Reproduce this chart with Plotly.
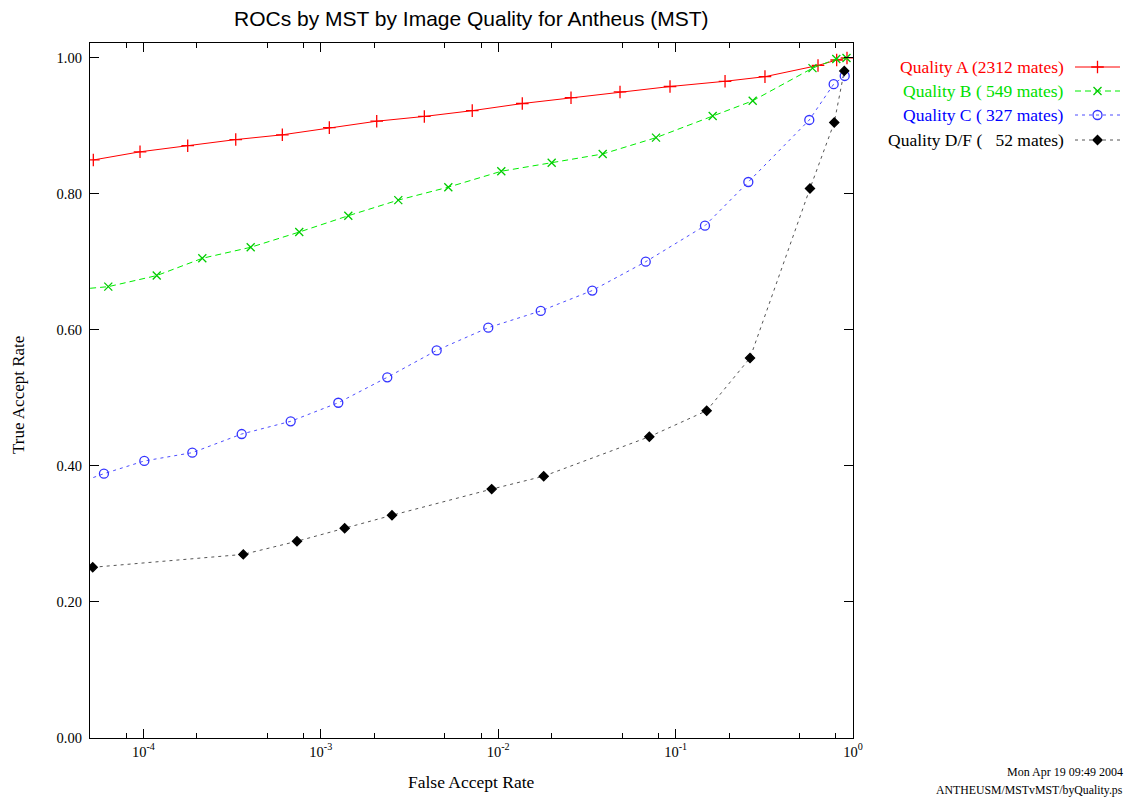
import plotly.graph_objects as go
import math

# ---------------- data ----------------
far_A = [5.22e-5, 9.57e-5, 1.777e-4, 3.315e-4, 6.07e-4, 1.117e-3, 2.066e-3, 3.834e-3, 7.14e-3,
         1.367e-2, 2.573e-2, 4.86e-2, 9.30e-2, 0.190, 0.319, 0.635, 0.809, 0.925]
tar_A = [0.850, 0.862, 0.871, 0.880, 0.887, 0.8975, 0.907, 0.914, 0.9225,
         0.933, 0.9416, 0.950, 0.958, 0.9657, 0.9725, 0.989, 0.997, 1.0]

far_B = [4.4e-5, 6.34e-5, 1.189e-4, 2.148e-4, 4.025e-4, 7.56e-4, 1.429e-3, 2.734e-3, 5.233e-3,
         1.041e-2, 2.002e-2, 3.882e-2, 7.755e-2, 0.1618, 0.272, 0.591, 0.805, 0.919]
tar_B = [0.660, 0.6637, 0.680, 0.7054, 0.7216, 0.744, 0.768, 0.791, 0.810,
         0.8334, 0.846, 0.8588, 0.8828, 0.9147, 0.937, 0.985, 0.9985, 1.0]

far_C = [4.4e-5, 5.99e-5, 1.012e-4, 1.887e-4, 3.582e-4, 6.765e-4, 1.255e-3, 2.370e-3, 4.499e-3,
         8.79e-3, 1.737e-2, 3.392e-2, 6.785e-2, 0.1464, 0.257, 0.567, 0.778, 0.898]
tar_C = [0.376, 0.3887, 0.4074, 0.4196, 0.447, 0.4657, 0.493, 0.5304, 0.570,
         0.6034, 0.628, 0.658, 0.7004, 0.7534, 0.8176, 0.9088, 0.9615, 0.9735]

far_D = [5.18e-5, 3.657e-4, 7.34e-4, 1.363e-3, 2.519e-3, 9.19e-3, 1.805e-2, 7.11e-2,
         0.1497, 0.2627, 0.572, 0.784, 0.893]
tar_D = [0.251, 0.270, 0.2893, 0.3084, 0.3275, 0.366, 0.385, 0.443,
         0.4813, 0.5588, 0.808, 0.905, 0.981]

series_names = ["Quality A (2312 mates)",
                "Quality B (\u00a0549 mates)",
                "Quality C (\u00a0327 mates)",
                "Quality D/F (\u00a0\u00a0 52 mates)"]

x_tickvals = [1e-4, 1e-3, 1e-2, 1e-1, 1]
x_ticktext = ["10<sup>-4</sup>", "10<sup>-3</sup>", "10<sup>-2</sup>", "10<sup>-1</sup>", "10<sup>0</sup>"]
x_minorvals = [8e-5, 2e-4, 5e-4, 8e-4, 2e-3, 5e-3, 8e-3, 2e-2, 5e-2, 8e-2, 2e-1, 5e-1, 8e-1]
y_tickvals = [0.0, 0.2, 0.4, 0.6, 0.8, 1.0]

title_text = "ROCs by MST by Image Quality for Antheus (MST)"
xlabel = "False Accept Rate"
ylabel = "True Accept Rate"
foot1 = "Mon Apr 19 09:49 2004"
foot2 = "ANTHEUSM/MSTvMST/byQuality.ps"

# ---------------- styles ----------------
W, H = 1128, 799
ML, MR, MT, MB = 90, 3, 43, 61
PW = W - ML - MR
PH = H - MT - MB
plot_right = 853
xdom = (plot_right - ML) / PW
xrange_log = [math.log10(5e-5), 0]

SERIF = "Liberation Serif"
styles = [
    dict(color="#ff0000", tcolor="#ff0000", dash="solid", sym="cross-thin-open", size=9, mcolor="#ff0000"),
    dict(color="#00ee00", tcolor="#00e000", dash="6px,4px", sym="x-thin-open", size=8, mcolor="#00cc00"),
    dict(color="#4d4dff", tcolor="#0000ff", dash="3px,4px", sym="circle-open", size=9, mcolor="#3333ff"),
    dict(color="#555555", tcolor="#000000", dash="3px,4px", sym="diamond", size=7, mcolor="#000000"),
]

fig = go.Figure()
data = [(far_A, tar_A), (far_B, tar_B), (far_C, tar_C), (far_D, tar_D)]
for (xs, ys), st, nm in zip(data, styles, series_names):
    fig.add_trace(go.Scatter(
        x=xs, y=ys, mode="lines+markers", name=nm, showlegend=False,
        line=dict(color=st["color"], width=1, dash=st["dash"]),
        marker=dict(symbol=st["sym"], size=st["size"], color=st["mcolor"],
                    line=dict(color=st["mcolor"], width=1.3)),
        xaxis="x", yaxis="y"))

# invisible trace so the minor-tick overlay axis is rendered
fig.add_trace(go.Scatter(x=[1e-3], y=[0.5], mode="markers", marker=dict(opacity=0),
                         showlegend=False, hoverinfo="skip", xaxis="x3", yaxis="y"))

# ---------------- custom legend (text left of sample, like gnuplot) ----------------
leg_rows_px = [67, 91, 115, 140]
leg_x0, leg_x1 = 1075, 1120
leg_text_right = 1066
annotations = []
for (st, nm, rpx) in zip(styles, series_names, leg_rows_px):
    yv = (MT + PH) - rpx
    fig.add_trace(go.Scatter(
        x=[leg_x0, leg_x1], y=[yv, yv], mode="lines", showlegend=False, hoverinfo="skip",
        line=dict(color=st["color"], width=1, dash=st["dash"]), xaxis="x2", yaxis="y2"))
    fig.add_trace(go.Scatter(
        x=[(leg_x0 + leg_x1) / 2], y=[yv], mode="markers", showlegend=False, hoverinfo="skip",
        marker=dict(symbol=st["sym"], size=st["size"], color=st["mcolor"],
                    line=dict(color=st["mcolor"], width=1.3)), xaxis="x2", yaxis="y2"))
    annotations.append(dict(
        text=nm, xref="paper", yref="paper",
        x=(leg_text_right - ML) / PW, y=((MT + PH) - rpx) / PH,
        xanchor="right", yanchor="middle", showarrow=False,
        font=dict(family=SERIF, size=17.5, color=st["tcolor"])))

# title, axis labels, footnotes
annotations.append(dict(text=title_text, xref="paper", yref="paper",
                        x=((ML + plot_right) / 2 - ML) / PW, y=((MT + PH) - 18) / PH,
                        xanchor="center", yanchor="middle", showarrow=False,
                        font=dict(family="Liberation Sans", size=21, color="#000000")))
annotations.append(dict(text=xlabel, xref="paper", yref="paper",
                        x=((ML + plot_right) / 2 - ML) / PW, y=((MT + PH) - 782) / PH,
                        xanchor="center", yanchor="middle", showarrow=False,
                        font=dict(family=SERIF, size=17.5, color="#000000")))
annotations.append(dict(text=ylabel, xref="paper", yref="paper",
                        x=(18 - ML) / PW, y=((MT + PH) - 395) / PH, textangle=-90,
                        xanchor="center", yanchor="middle", showarrow=False,
                        font=dict(family=SERIF, size=17, color="#000000")))
annotations.append(dict(text=foot1, xref="paper", yref="paper",
                        x=(1125 - ML) / PW, y=((MT + PH) - 772) / PH,
                        xanchor="right", yanchor="middle", showarrow=False,
                        font=dict(family=SERIF, size=12, color="#000000")))
annotations.append(dict(text=foot2, xref="paper", yref="paper",
                        x=(1125 - ML) / PW, y=((MT + PH) - 790) / PH,
                        xanchor="right", yanchor="middle", showarrow=False,
                        font=dict(family=SERIF, size=11.8, color="#000000")))

fig.update_layout(
    width=W, height=H, autosize=False,
    margin=dict(l=ML, r=MR, t=MT, b=MB, pad=0, autoexpand=False),
    paper_bgcolor="white", plot_bgcolor="white",
    showlegend=False,
    annotations=annotations,
    xaxis=dict(type="log", domain=[0, xdom], range=xrange_log, automargin=False,
               tickmode="array", tickvals=x_tickvals, ticktext=x_ticktext,
               ticks="inside", ticklen=9, tickwidth=1, tickcolor="black",
               showline=True, linecolor="black", linewidth=1.3, mirror="ticks",
               showgrid=False, zeroline=False,
               tickfont=dict(family=SERIF, size=14.5, color="black"), anchor="y"),
    xaxis3=dict(type="log", domain=[0, xdom], range=xrange_log, overlaying="x", anchor="y",
                automargin=False,
                tickmode="array", tickvals=x_minorvals, ticktext=[""] * len(x_minorvals),
                ticks="inside", ticklen=5, tickwidth=1, tickcolor="black",
                showline=True, linecolor="black", linewidth=1.3, mirror="ticks",
                showgrid=False, zeroline=False, showticklabels=False, side="bottom"),
    yaxis=dict(range=[0, 1.022], tickmode="array", tickvals=y_tickvals, tickformat=".2f",
               automargin=False,
               ticks="inside", ticklen=9, tickwidth=1, tickcolor="black",
               showline=True, linecolor="black", linewidth=1.3, mirror="ticks",
               showgrid=False, zeroline=False, ticklabelstandoff=4,
               tickfont=dict(family=SERIF, size=14.5, color="black"), anchor="x"),
    xaxis2=dict(domain=[(1070 - ML) / PW, 1], range=[1070, ML + PW], visible=False,
                automargin=False, fixedrange=True, anchor="y2"),
    yaxis2=dict(domain=[0, 1], range=[0, PH], visible=False, fixedrange=True,
                automargin=False, anchor="x2"),
)

post = ("document.documentElement.style.overflow='hidden';"
        "document.body.style.margin='0';document.body.style.overflow='hidden';")

fig.write_html("out.html",
               config={"displayModeBar": False, "responsive": False},
               post_script=post)
